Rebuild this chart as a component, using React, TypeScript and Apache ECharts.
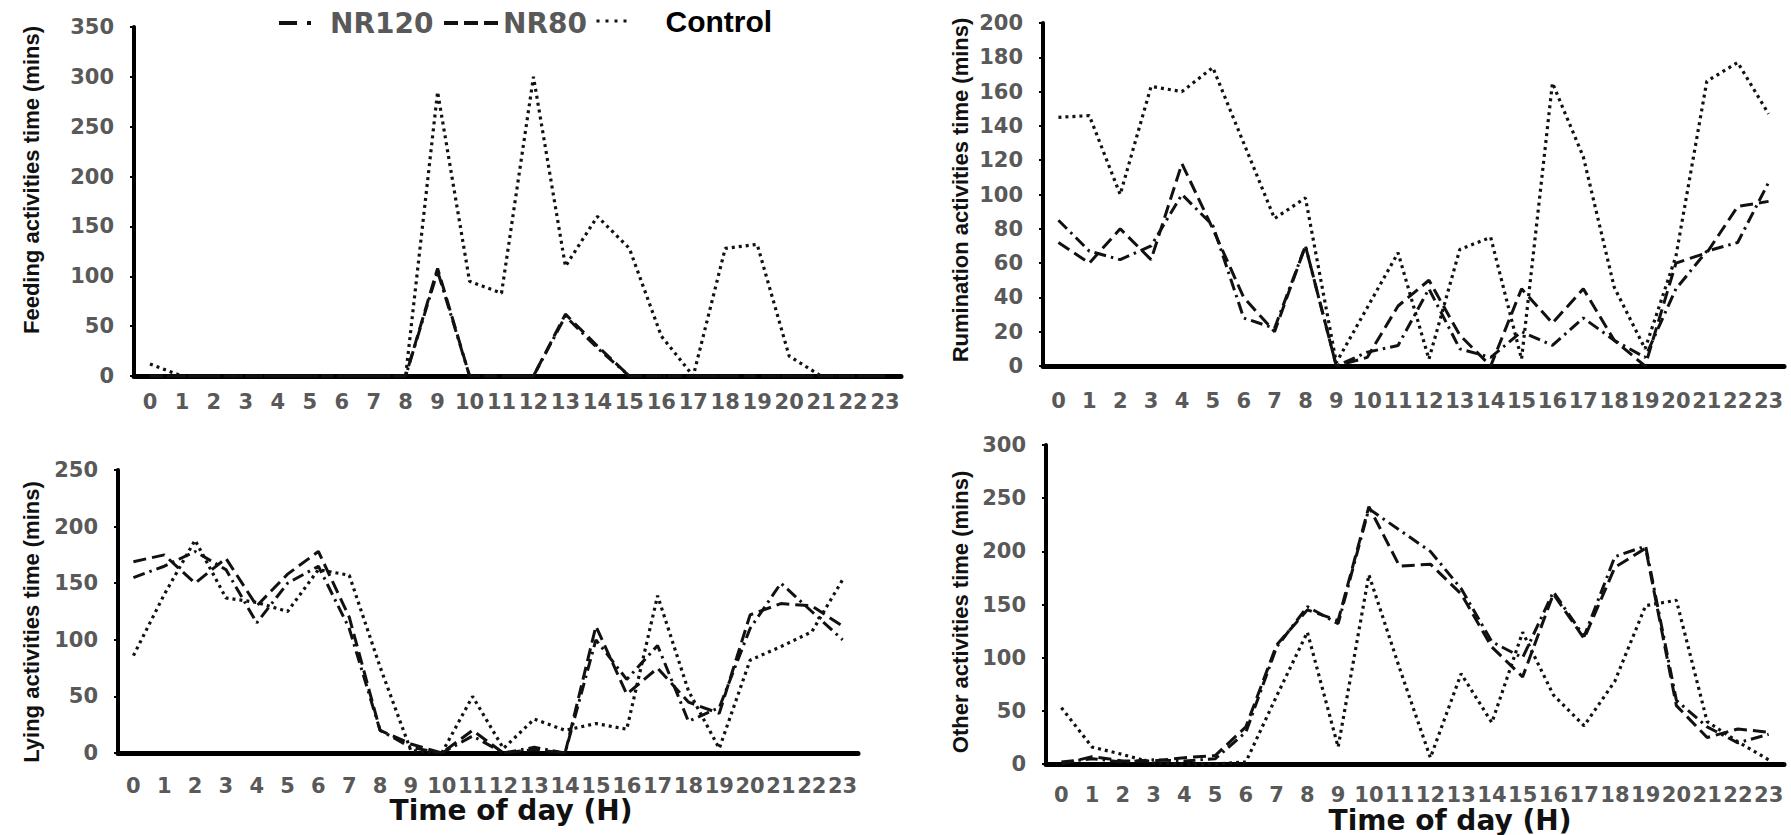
import React, { useEffect, useRef } from "react";
import * as echarts from "echarts";

// ---------- data ----------
const hours = ["0", "1", "2", "3", "4", "5", "6", "7", "8", "9", "10", "11", "12", "13", "14", "15", "16", "17", "18", "19", "20", "21", "22", "23"];

const feedingNR120 = [0, 0, 0, 0, 0, 0, 0, 0, 0, 105, 0, 0, 0, 60, 28, 0, 0, 0, 0, 0, 0, 0, 0, 0];
const feedingNR80 = [0, 0, 0, 0, 0, 0, 0, 0, 0, 108, 0, 0, 0, 62, 30, 0, 0, 0, 0, 0, 0, 0, 0, 0];
const feedingControl = [12, 0, 0, 0, 0, 0, 0, 0, 0, 285, 95, 83, 300, 110, 160, 128, 40, 0, 128, 132, 20, 0, 0, 0];

const ruminationNR120 = [85, 67, 62, 70, 100, 82, 28, 22, 70, 0, 8, 12, 45, 10, 5, 20, 12, 28, 15, 5, 45, 67, 72, 107];
const ruminationNR80 = [72, 60, 80, 62, 118, 80, 40, 20, 70, 0, 5, 35, 50, 18, 0, 45, 25, 45, 15, 0, 60, 66, 93, 96];
const ruminationControl = [145, 146, 100, 163, 160, 174, 130, 86, 98, 2, 34, 66, 4, 68, 75, 4, 165, 122, 46, 10, 64, 166, 177, 147];

const lyingNR120 = [155, 165, 178, 162, 115, 150, 165, 110, 20, 5, 0, 15, 0, 5, 0, 100, 65, 95, 28, 40, 110, 150, 125, 100];
const lyingNR80 = [169, 175, 150, 172, 130, 158, 178, 120, 20, 8, 0, 20, 0, 3, 0, 112, 52, 75, 45, 35, 122, 132, 130, 112];
const lyingControl = [86, 140, 188, 137, 133, 125, 162, 157, 76, 2, 0, 50, 4, 30, 20, 26, 21, 139, 55, 4, 82, 94, 107, 153];

const otherNR120 = [2, 5, 2, 4, 3, 5, 30, 110, 148, 132, 240, 220, 200, 165, 115, 100, 162, 120, 195, 205, 60, 35, 20, 28];
const otherNR80 = [0, 7, 3, 3, 6, 8, 35, 112, 145, 135, 242, 186, 188, 160, 110, 82, 160, 118, 185, 203, 55, 25, 33, 30];
const otherControl = [53, 16, 9, 1, 0, 0, 2, 64, 124, 16, 178, 90, 6, 85, 39, 124, 65, 36, 78, 149, 154, 40, 21, 4];

const yNames = [
  "Feeding activities time (mins)",
  "Rumination activities time (mins)",
  "Lying activities time (mins)",
  "Other activities time (mins)",
];
const yMax = [350, 200, 250, 300];
const yStep = [50, 20, 50, 50];
const xName = "Time of day (H)";

// ---------- styles ----------
const INK = "#111111";
const TICK_GRAY = "#595959";
const dashStyles: Record<string, number[]> = {
  NR120: [12, 5, 2.5, 5],
  NR80: [13, 6],
  Control: [3, 4],
};

const grids = [
  { left: 134, top: 27, width: 767, height: 349 },
  { left: 1043, top: 23, width: 741, height: 343 },
  { left: 118, top: 470, width: 740, height: 283 },
  { left: 1046, top: 445, width: 738, height: 324 },
];

const tickFont = {
  fontFamily: "'DejaVu Sans', sans-serif",
  fontWeight: "bold" as const,
  fontSize: 21,
  color: TICK_GRAY,
};

const yNamePos = [
  [31, 180],
  [960, 190],
  [31, 622],
  [960, 612],
];
const xLabelMargin = [15, 24, 22, 20];

function buildOption() {
  const xAxis = grids.map((_, i) => {
    const base: any = {
      type: "category",
      gridIndex: i,
      data: hours,
      boundaryGap: true,
      axisLine: { show: true, lineStyle: { color: "#000", width: 5 } },
      axisTick: { show: false },
      splitLine: { show: false },
      axisLabel: { ...tickFont, interval: 0, margin: xLabelMargin[i] },
    };
    if (i === 2 || i === 3) {
      base.name = xName;
      base.nameLocation = "middle";
      base.nameGap = i === 2 ? 33 : 37;
      base.nameTextStyle = {
        fontFamily: "'DejaVu Sans', sans-serif",
        fontWeight: "bold",
        fontSize: 28,
        color: INK,
        padding: i === 2 ? [0, 0, 0, 46] : [0, 0, 0, 70],
      };
    }
    return base;
  });

  const yAxis = grids.map((_, i) => ({
    type: "value",
    gridIndex: i,
    min: 0,
    max: yMax[i],
    interval: yStep[i],
    axisLine: { show: true, lineStyle: { color: "#000", width: 4 } },
    axisTick: { show: true, length: 4, lineStyle: { color: "#000", width: 2 } },
    splitLine: { show: false },
    axisLabel: { ...tickFont, margin: 20 },
  }));

  const panels = [
    [feedingNR120, feedingNR80, feedingControl],
    [ruminationNR120, ruminationNR80, ruminationControl],
    [lyingNR120, lyingNR80, lyingControl],
    [otherNR120, otherNR80, otherControl],
  ];
  const names = ["NR120", "NR80", "Control"];
  const series: any[] = [];
  panels.forEach((sets, i) => {
    sets.forEach((values, k) => {
      series.push({
        name: names[k],
        type: "line",
        xAxisIndex: i,
        yAxisIndex: i,
        data: values,
        symbol: "none",
        showSymbol: false,
        clip: false,
        color: INK,
        itemStyle: { color: INK },
        lineStyle: { color: INK, width: k === 2 ? 3.2 : 3, type: dashStyles[names[k]], cap: "butt" },
        z: 3,
      });
    });
  });

  const legendText = {
    fontFamily: "'DejaVu Sans', sans-serif",
    fontWeight: "bold" as const,
    fontSize: 28,
    color: TICK_GRAY,
  };
  const hiddenSymbol = { color: "transparent", borderColor: "transparent", borderWidth: 0, opacity: 0 };

  const legend = [
    {
      data: ["NR120"],
      left: 272,
      top: 4,
      itemWidth: 34,
      itemHeight: 14,
      selectedMode: false,
      itemStyle: hiddenSymbol,
      lineStyle: { type: [18, 10, 4, 20], width: 4, color: INK },
      textStyle: { ...legendText, padding: [0, 0, 0, 12] },
    },
    {
      data: ["NR80"],
      left: 437,
      top: 4,
      itemWidth: 54,
      itemHeight: 14,
      selectedMode: false,
      itemStyle: hiddenSymbol,
      lineStyle: { type: [14, 6], width: 4, color: INK },
      textStyle: { ...legendText },
    },
    {
      data: ["Control"],
      left: 590,
      top: 1,
      itemWidth: 30,
      itemHeight: 14,
      selectedMode: false,
      itemStyle: hiddenSymbol,
      lineStyle: { type: [3, 6], width: 3, color: INK },
      textStyle: {
        fontFamily: "'Liberation Sans', Arial, sans-serif",
        fontWeight: "bold",
        fontSize: 30,
        color: "#000",
        padding: [0, 0, 0, 34],
      },
    },
  ];

  const graphic = yNames.map((t, i) => ({
    type: "text",
    x: yNamePos[i][0],
    y: yNamePos[i][1],
    rotation: Math.PI / 2,
    silent: true,
    style: {
      text: t,
      fill: INK,
      fontFamily: "'Liberation Sans', Arial, sans-serif",
      fontWeight: "bold",
      fontSize: 22,
      align: "center",
      verticalAlign: "middle",
      textAlign: "center",
      textVerticalAlign: "middle",
    },
  }));

  return {
    animation: false,
    backgroundColor: "#ffffff",
    grid: grids,
    xAxis,
    yAxis,
    legend,
    graphic,
    series,
  };
}

export default function App() {
  const ref = useRef<HTMLDivElement>(null);
  useEffect(() => {
    document.body.style.margin = "0";
    if (!ref.current) return;
    const chart = echarts.init(ref.current, undefined, { renderer: "svg" });
    chart.setOption(buildOption() as any);
    return () => chart.dispose();
  }, []);
  return <div ref={ref} style={{ width: 1791, height: 835, background: "#fff" }} />;
}
